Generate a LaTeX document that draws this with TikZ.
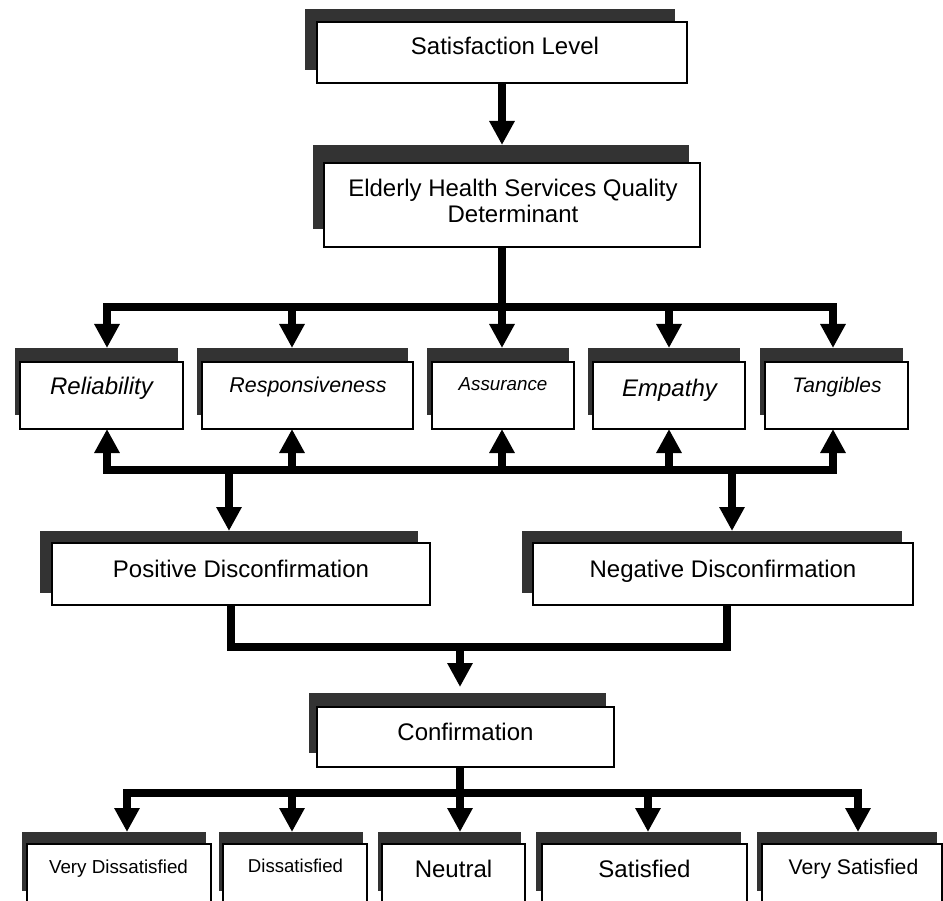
\documentclass[tikz,border=0pt]{standalone}
\usepackage{fontspec}
\setmainfont{Liberation Sans}
\usetikzlibrary{arrows.meta,fit}
\definecolor{shgray}{RGB}{51,51,51}
\tikzset{
  conn/.style={line width=7.5pt, draw=black, line join=miter},
  arr/.style={-{Triangle[width=24pt,length=24pt]}},
  shadowbox/.style={fill=shgray, draw=none, inner sep=0pt, outer sep=0pt},
  whitebox/.style={fill=white, draw=black, line width=1.5pt, inner sep=0pt, outer sep=0pt},
  lbl/.style={anchor=base, inner sep=0pt, font=\fontsize{24}{26.5}\selectfont},
  ilbl/.style={lbl, font=\fontsize{#1}{#1}\selectfont\itshape},
  slbl/.style={lbl, font=\fontsize{#1}{#1}\selectfont},
}
\newcommand\mkbox[7]{%
  \coordinate (#1-sa) at ({#2+(#6)},{#3+(#7)});
  \coordinate (#1-sb) at ({#4+(#6)},{#5+(#7)});
  \node[shadowbox, fit=(#1-sa)(#1-sb)] (#1-sh) {};
  \coordinate (#1-a) at (#2,#3);
  \coordinate (#1-b) at (#4,#5);
  \node[whitebox, fit=(#1-a)(#1-b)] (#1) {};
}
\begin{document}
\begin{tikzpicture}[x=1pt,y=-1pt]
\useasboundingbox (0,0) rectangle (943,901);
\clip (0,0) rectangle (943,901);
\fill[white] (0,0) rectangle (943,901);

% boxes
\mkbox{sat}{317}{22}{687}{83}{-12}{-13}
\mkbox{ehs}{324}{163}{700}{247}{-11}{-18}
\mkbox{rel}{20}{362}{183}{429}{-5}{-14}
\mkbox{resp}{202}{362}{413}{429}{-5}{-14}
\mkbox{assu}{432}{362}{574}{429}{-5}{-14}
\mkbox{emp}{593}{362}{745}{429}{-5}{-14}
\mkbox{tang}{765}{362}{908}{429}{-5}{-14}
\mkbox{pos}{52}{543}{430}{605}{-12}{-12}
\mkbox{neg}{533}{543}{913}{605}{-11}{-12}
\mkbox{conf}{317}{707}{614}{767}{-8}{-14}
\mkbox{vd}{27}{844}{211}{903}{-5}{-12}
\mkbox{dis}{223}{844}{367}{903}{-4}{-12}
\mkbox{neu}{382}{844}{525}{903}{-4}{-12}
\mkbox{satf}{542}{844}{747}{903}{-6}{-12}
\mkbox{vs}{762}{844}{942}{903}{-5}{-12}

% labels
\node[lbl] (sat-t) at (505,55) {Satisfaction Level};
\node[lbl, align=center, anchor=base] (ehs-t) at (513,223) {Elderly Health Services Quality\\Determinant};
\node[ilbl=24] (rel-t) at (101.5,395) {Reliability};
\node[ilbl=21.4] (resp-t) at (308,393) {Responsiveness};
\node[ilbl=18.8] (assu-t) at (503,391) {Assurance};
\node[ilbl=24] (emp-t) at (669.5,396) {Empathy};
\node[ilbl=21] (tang-t) at (837,393) {Tangibles};
\node[lbl] (pos-t) at (241,577) {Positive Disconfirmation};
\node[lbl] (neg-t) at (723,577) {Negative Disconfirmation};
\node[lbl] (conf-t) at (465.5,740) {Confirmation};
\node[slbl=18.8] (vd-t) at (118.5,873) {Very Dissatisfied};
\node[slbl=18.6] (dis-t) at (295.5,872) {Dissatisfied};
\node[slbl=24] (neu-t) at (453.5,877) {Neutral};
\node[slbl=24] (satf-t) at (644.5,877) {Satisfied};
\node[slbl=21.2] (vs-t) at (853.5,874) {Very Satisfied};

% connectors
\coordinate (j1) at (502,307);
\coordinate (j2) at (229,470);
\coordinate (j3) at (460,647);
\coordinate (j4) at (460,793);
\coordinate (conf-in) at (460,687);

\draw[conn,arr] (502,0 |- sat.south) -- (502,0 |- ehs-sh.north);
\draw[conn] (502,0 |- ehs.south) -- (j1);
\draw[conn,arr] (j1) -| (107,0 |- rel-sh.north);
\draw[conn,arr] (j1) -| (292,0 |- resp-sh.north);
\draw[conn,arr] (j1) -- (502,0 |- assu-sh.north);
\draw[conn,arr] (j1) -| (669,0 |- emp-sh.north);
\draw[conn,arr] (j1) -| (833,0 |- tang-sh.north);

\draw[conn,arr] (j2) -| (107,0 |- rel.south);
\draw[conn,arr] (j2) -| (292,0 |- resp.south);
\draw[conn,arr] (j2) -| (502,0 |- assu.south);
\draw[conn,arr] (j2) -| (669,0 |- emp.south);
\draw[conn,arr] (j2) -| (833,0 |- tang.south);
\draw[conn,arr] (j2) -- (229,0 |- pos-sh.north);
\draw[conn,arr] (j2) -| (732,0 |- neg-sh.north);

\draw[conn] (231,0 |- pos.south) |- (j3) -| (727,0 |- neg.south);
\draw[conn,arr] (j3) -- (conf-in);

\draw[conn] (460,0 |- conf.south) -- (j4);
\draw[conn,arr] (j4) -| (127,0 |- vd-sh.north);
\draw[conn,arr] (j4) -| (292,0 |- dis-sh.north);
\draw[conn,arr] (j4) -- (460,0 |- neu-sh.north);
\draw[conn,arr] (j4) -| (648,0 |- satf-sh.north);
\draw[conn,arr] (j4) -| (858,0 |- vs-sh.north);
\end{tikzpicture}
\end{document}
